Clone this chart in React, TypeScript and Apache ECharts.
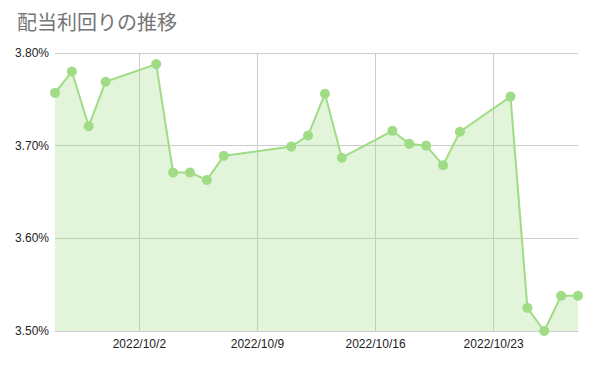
import React, { useEffect, useRef } from "react";
import * as echarts from "echarts";

const titleText = "配当利回りの推移";

const dates = [
  "2022/9/27", "2022/9/28", "2022/9/29", "2022/9/30",
  "2022/10/3", "2022/10/4", "2022/10/5", "2022/10/6", "2022/10/7",
  "2022/10/11", "2022/10/12", "2022/10/13", "2022/10/14",
  "2022/10/17", "2022/10/18", "2022/10/19", "2022/10/20", "2022/10/21",
  "2022/10/24", "2022/10/25", "2022/10/26", "2022/10/27", "2022/10/28",
];

const yields = [
  3.757, 3.780, 3.721, 3.769,
  3.788, 3.671, 3.671, 3.663, 3.689,
  3.699, 3.711, 3.756, 3.687,
  3.716, 3.702, 3.700, 3.679, 3.715,
  3.753, 3.525, 3.500, 3.538, 3.538,
];

const xTickDates = ["2022/10/2", "2022/10/9", "2022/10/16", "2022/10/23"];
const xMinDate = "2022/9/27";
const xMaxDate = "2022/10/28";
const yTicks = [3.5, 3.6, 3.7, 3.8];

function toTs(s: string): number {
  const [y, m, d] = s.split("/").map(Number);
  return Date.UTC(y, m - 1, d);
}

function fmtDate(ts: number): string {
  const d = new Date(ts);
  return `${d.getUTCFullYear()}/${d.getUTCMonth() + 1}/${d.getUTCDate()}`;
}

export default function App() {
  const ref = useRef<HTMLDivElement>(null);

  useEffect(() => {
    document.body.style.margin = "0";
    if (!ref.current) return;
    const chart = echarts.init(ref.current, null, { renderer: "svg" });
    const tickVals = xTickDates.map(toTs);
    const lineColor = "#9fdc85";
    chart.setOption({
      animation: false,
      title: {
        text: titleText,
        left: 12,
        top: 6,
        textStyle: {
          fontFamily: "'Noto Sans CJK JP', sans-serif",
          fontSize: 20,
          fontWeight: "normal",
          color: "#757575",
        },
      },
      grid: { left: 55, right: 17, top: 53, bottom: 34, containLabel: false },
      xAxis: {
        type: "value",
        min: toTs(xMinDate),
        max: toTs(xMaxDate),
        axisLine: { show: true, lineStyle: { color: "#cccccc", width: 1 } },
        axisTick: { show: false, customValues: tickVals },
        axisLabel: {
          customValues: tickVals,
          formatter: (v: number) => fmtDate(v),
          color: "#222222",
          fontSize: 12,
          fontFamily: "'Liberation Sans', Arial, sans-serif",
          margin: 7,
        },
        splitLine: { show: true, lineStyle: { color: "#cccccc", width: 1 } },
      },
      yAxis: {
        type: "value",
        min: yTicks[0],
        max: yTicks[yTicks.length - 1],
        interval: 0.1,
        axisLine: { show: false },
        axisTick: { show: false },
        axisLabel: {
          formatter: (v: number) => v.toFixed(2) + "%",
          color: "#222222",
          fontSize: 12,
          fontFamily: "'Liberation Sans', Arial, sans-serif",
          margin: 6,
        },
        splitLine: { show: true, lineStyle: { color: "#cccccc", width: 1 } },
      },
      series: [
        {
          type: "line",
          data: dates.map((d, i) => [toTs(d), yields[i]]),
          symbol: "circle",
          symbolSize: 10,
          showSymbol: true,
          clip: true,
          itemStyle: { color: lineColor },
          lineStyle: { color: lineColor, width: 2 },
          areaStyle: { color: lineColor, opacity: 0.3 },
        },
      ],
    });
    return () => chart.dispose();
  }, []);

  return <div ref={ref} style={{ width: 595, height: 365 }} />;
}
